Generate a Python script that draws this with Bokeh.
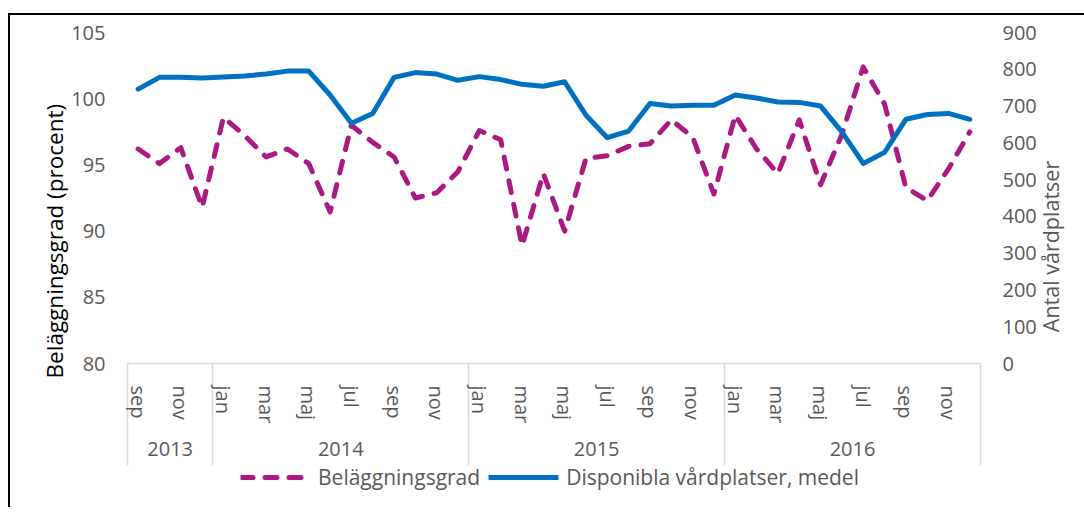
import math
from bokeh.plotting import figure
from bokeh.layouts import column
from bokeh.models import (Range1d, LinearAxis, FixedTicker, Legend, LegendItem)
from bokeh.embed import file_html
from bokeh.resources import INLINE

# ---- data ----
month_names = ["sep", "okt", "nov", "dec",
               "jan", "feb", "mar", "apr", "maj", "jun", "jul", "aug", "sep", "okt", "nov", "dec",
               "jan", "feb", "mar", "apr", "maj", "jun", "jul", "aug", "sep", "okt", "nov", "dec",
               "jan", "feb", "mar", "apr", "maj", "jun", "jul", "aug", "sep", "okt", "nov", "dec"]
years = ["2013", "2014", "2015", "2016"]
year_month_counts = [4, 12, 12, 12]
belaggning = [96.2, 95.1, 96.3, 91.8, 98.6, 97.2, 95.6, 96.2, 95.1, 91.45,
              98.0, 96.7, 95.6, 92.5, 92.9, 94.5, 97.6, 96.9, 88.9, 94.35,
              90.0, 95.5, 95.7, 96.4, 96.6, 98.4, 97.1, 92.8, 98.75, 96.2,
              94.35, 98.4, 93.5, 97.3, 102.4, 99.6, 93.3, 92.3, 94.7, 97.5]
vardplatser = [746, 778, 778, 776, 779, 782, 787, 795, 795, 730,
               653, 680, 778, 791, 787, 770, 780, 772, 759, 754,
               766, 675, 614, 632, 707, 700, 702, 702, 730, 722,
               711, 710, 700, 630, 544, 574, 664, 677, 680, 664]
left_ticks = [80, 85, 90, 95, 100, 105]
right_ticks = [0, 100, 200, 300, 400, 500, 600, 700, 800, 900]
series_names = ["Beläggningsgrad", "Disponibla vårdplatser, medel"]
left_title = "Beläggningsgrad (procent)"
right_title = "Antal vårdplatser"

FONT = "Open Sans"
GRAY = "#595959"
GRID = "#d9d9d9"
PINK = "#AB1A83"
BLUE = "#0070C0"
FS = "20px"
DASH = "12 12"

n = len(month_names)
xs = list(range(n))

p = figure(width=1074, height=452, output_backend="svg", toolbar_location=None,
           x_range=Range1d(-0.5, n - 0.5), y_range=Range1d(80, 105),
           min_border_left=117, min_border_right=104, min_border_top=17, min_border_bottom=104,
           x_axis_type=None, y_axis_type=None)
p.outline_line_color = None
p.background_fill_color = "white"
p.border_fill_color = "white"
p.extra_y_ranges = {"right": Range1d(0, 900)}


def plain_axis(ax, standoff):
    ax.axis_line_color = None
    ax.major_tick_line_color = None
    ax.minor_tick_line_color = None
    ax.major_tick_out = 0
    ax.major_tick_in = 0
    ax.major_label_standoff = standoff
    ax.major_label_text_font = FONT
    ax.major_label_text_font_size = FS
    ax.major_label_text_color = GRAY


# left axis
yax = LinearAxis(ticker=FixedTicker(ticks=left_ticks, minor_ticks=[]))
plain_axis(yax, 22)
p.add_layout(yax, "left")

# left title (a single rotated label on an outer axis)
left_title_pos = 89.24
ltax = LinearAxis(ticker=FixedTicker(ticks=[left_title_pos], minor_ticks=[]))
plain_axis(ltax, -2)
ltax.major_label_overrides = {left_title_pos: left_title}
ltax.major_label_orientation = "vertical"
ltax.major_label_text_color = "black"
ltax.major_label_text_font_size = "22.5px"
p.add_layout(ltax, "left")

# right axis
rax = LinearAxis(y_range_name="right", ticker=FixedTicker(ticks=right_ticks, minor_ticks=[]))
plain_axis(rax, 22)
p.add_layout(rax, "right")

right_title_pos = 85.2   # lower end of the rotated title
rtax = LinearAxis(y_range_name="right", ticker=FixedTicker(ticks=[right_title_pos], minor_ticks=[]))
plain_axis(rtax, 11)
rtax.major_label_overrides = {right_title_pos: right_title}
rtax.major_label_orientation = math.pi / 2
rtax.major_label_text_font_size = "21.5px"
p.add_layout(rtax, "right")

# grid
p.ygrid.ticker = FixedTicker(ticks=left_ticks)
p.ygrid.grid_line_color = GRID
p.ygrid.grid_line_width = 1.5
p.xgrid.grid_line_color = None

# month axis with year separators as minor ticks
bounds = [-0.5]
for c in year_month_counts:
    bounds.append(bounds[-1] + c)
month_ticks = [i for i in xs if i % 2 == 0]
xax = LinearAxis(ticker=FixedTicker(ticks=month_ticks, minor_ticks=bounds))
plain_axis(xax, -80)
xax.major_label_overrides = {i: month_names[i] for i in month_ticks}
xax.axis_line_color = GRID
xax.axis_line_width = 1.5
xax.minor_tick_line_color = GRID
xax.minor_tick_line_width = 1.5
xax.minor_tick_out = 102
xax.minor_tick_in = 0
xax.major_label_orientation = "vertical"
p.add_layout(xax, "below")

# year axis
centers = [(bounds[k] + bounds[k + 1]) / 2 for k in range(len(years))]
yrax = LinearAxis(ticker=FixedTicker(ticks=centers, minor_ticks=[]))
plain_axis(yrax, 15)
yrax.major_label_overrides = {c: y for c, y in zip(centers, years)}
p.add_layout(yrax, "below")

# series
p.line(xs, belaggning, line_color=PINK, line_width=5, line_dash=DASH,
       line_cap="round", line_join="round")
p.line(xs, vardplatser, y_range_name="right", line_color=BLUE, line_width=5,
       line_cap="round", line_join="round")

# legend strip (separate transparent figure overlapping the bottom of the chart)
q = figure(width=1066, height=60, output_backend="svg", toolbar_location=None,
           x_range=Range1d(0, 1), y_range=Range1d(0, 1),
           min_border_left=38, min_border_right=0, min_border_top=0, min_border_bottom=0,
           x_axis_type=None, y_axis_type=None)
q.outline_line_color = None
q.background_fill_alpha = 0
q.border_fill_alpha = 0
q.xgrid.grid_line_color = None
q.ygrid.grid_line_color = None
q.styles = {"margin-top": "-20px"}
# legend keys: same styles as the chart lines, drawn outside the strip's visible range
l1 = q.line([5, 6], [5, 5], line_color=PINK, line_width=5, line_dash=DASH, line_cap="round")
l2 = q.line([5, 6], [5, 5], line_color=BLUE, line_width=5, line_cap="round")
legend = Legend(items=[LegendItem(label=series_names[0], renderers=[l1]),
                       LegendItem(label=series_names[1], renderers=[l2])],
                orientation="horizontal", location="center")
legend.glyph_width = 70
legend.glyph_height = 20
legend.label_text_font = FONT
legend.label_text_font_size = "21px"
legend.label_text_color = GRAY
legend.border_line_color = None
legend.background_fill_alpha = 0
legend.padding = 0
legend.margin = 0
legend.spacing = 8
legend.label_standoff = 8
q.add_layout(legend, "center")

page = column(p, q)
page.styles = {"margin-top": "13px", "margin-left": "8px",
               "border-top": "2px solid black", "border-left": "2px solid black"}

open("out.html", "w").write(file_html(page, INLINE))
